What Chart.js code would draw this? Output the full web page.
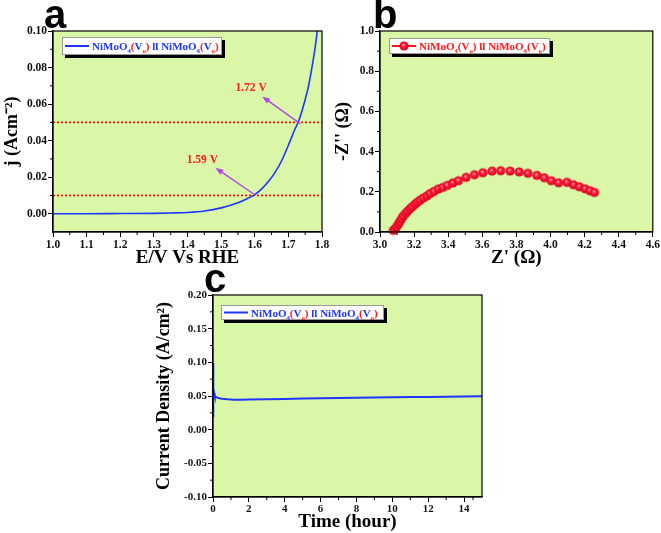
<!DOCTYPE html>
<html lang="en">
<head>
<meta charset="UTF-8">
<title>NiMoO4 || NiMoO4 electrolyzer</title>
<script src="https://cdn.jsdelivr.net/npm/chart.js"></script>
<style>
  body { margin: 0; background: #fff; }
  #wrap { position: relative; width: 661px; height: 533px; overflow: hidden; }
  canvas { position: absolute; }
  #ca { left: 0; top: 0; }
  #cb { left: 330px; top: 0; }
  #cc { left: 150px; top: 265px; }
</style>
</head>
<body>
<div id="wrap">
  <canvas id="ca" width="335" height="270"></canvas>
  <canvas id="cb" width="331" height="270"></canvas>
  <canvas id="cc" width="350" height="268"></canvas>
</div>
<script>
// ---- (a) polarization curve ----
const lsvE = [1.00, 1.10, 1.20, 1.30, 1.35, 1.40, 1.45, 1.50, 1.55, 1.58, 1.60, 1.62, 1.64, 1.66, 1.68, 1.70, 1.72, 1.73, 1.74, 1.75, 1.76, 1.77, 1.78, 1.79];
const lsvJ = [0, 0, 0.0001, 0.0002, 0.0004, 0.0007, 0.0015, 0.0032, 0.0060, 0.0085, 0.0105, 0.0135, 0.0175, 0.0225, 0.0290, 0.0375, 0.0465, 0.0505, 0.0560, 0.0625, 0.0700, 0.0800, 0.0915, 0.1060];
const refJ = [0.05, 0.01];
const markLabels = ['1.72 V', '1.59 V'];
const markText = [[1.589, 0.0687], [1.444, 0.0296]];
const arrowTail = [[1.735, 0.0493], [1.599, 0.0105]];
const arrowHead = [[1.622, 0.0642], [1.483, 0.0251]];
const ticksAx = [1.0, 1.1, 1.2, 1.3, 1.4, 1.5, 1.6, 1.7, 1.8];
const ticksAy = [0, 0.02, 0.04, 0.06, 0.08, 0.10];

// ---- (b) Nyquist plot ----
const zRe = [3.078, 3.088, 3.098, 3.108, 3.117, 3.127, 3.137, 3.151, 3.162, 3.176, 3.190, 3.205, 3.219, 3.235, 3.254, 3.274, 3.293, 3.317, 3.342, 3.368, 3.395, 3.427, 3.460, 3.505, 3.554, 3.603, 3.657, 3.708, 3.763, 3.816, 3.867, 3.920, 3.964, 4.004, 4.047, 4.096, 4.135, 4.170, 4.203, 4.232, 4.258];
const zIm = [0.008, 0.015, 0.027, 0.040, 0.053, 0.066, 0.080, 0.093, 0.104, 0.116, 0.126, 0.138, 0.148, 0.158, 0.169, 0.179, 0.191, 0.202, 0.214, 0.222, 0.232, 0.244, 0.255, 0.272, 0.285, 0.295, 0.303, 0.305, 0.303, 0.299, 0.292, 0.282, 0.270, 0.255, 0.245, 0.247, 0.235, 0.225, 0.215, 0.205, 0.197];
const ticksBx = [3.0, 3.2, 3.4, 3.6, 3.8, 4.0, 4.2, 4.4, 4.6];
const ticksBy = [0, 0.2, 0.4, 0.6, 0.8, 1.0];

// ---- (c) stability test ----
const timeH = [0, 0.005, 0.01, 0.03, 0.06, 0.1, 0.2, 0.35, 0.5, 0.8, 1.2, 1.6, 2, 3, 4, 5, 6, 7, 8, 9, 10, 11, 12, 13, 14, 15];
const currentC = [0.020, 0.099, 0.080, 0.062, 0.054, 0.050, 0.048, 0.0468, 0.046, 0.045, 0.0445, 0.0445, 0.0447, 0.0452, 0.0457, 0.0462, 0.0466, 0.0470, 0.0474, 0.0478, 0.0481, 0.0484, 0.0487, 0.0490, 0.0494, 0.0498];
const ticksCx = [0, 2, 4, 6, 8, 10, 12, 14];
const ticksCy = [-0.10, -0.05, 0, 0.05, 0.10, 0.15, 0.20];

const SERIF = '"Liberation Serif", "Times New Roman", serif';
const PLOT_BG = '#daf7a8';
const BLUE = '#1f36ff';
const RED = '#ff1a1a';
const PURPLE = '#b048e8';

function pts(xs, ys) { return xs.map((x, i) => ({ x: x, y: ys[i] })); }

function sphere(r) {
  const c = document.createElement('canvas');
  c.width = c.height = Math.ceil(2 * r + 2);
  const m = c.width / 2;
  const g = c.getContext('2d');
  const grad = g.createRadialGradient(m - r * 0.15, m - r * 0.25, r * 0.05, m, m, r);
  grad.addColorStop(0, '#ffc8d0');
  grad.addColorStop(0.18, '#ff5a70');
  grad.addColorStop(0.45, '#ff1a38');
  grad.addColorStop(1, '#d4001c');
  g.fillStyle = grad;
  g.beginPath(); g.arc(m, m, r, 0, Math.PI * 2); g.fill();
  return c;
}
const ball = sphere(4.6);

function legendText(main, accent) {
  const half = [
    { t: 'NiMoO', c: main }, { t: '4', c: main, sub: true }, { t: '(', c: accent },
    { t: 'V', c: main }, { t: 'o', c: accent, sub: true }, { t: ')', c: accent }
  ];
  return half.concat([{ t: ' ll ', c: main }], half);
}

function drawRich(ctx, x, y, segs, size) {
  ctx.textAlign = 'left';
  ctx.textBaseline = 'alphabetic';
  segs.forEach(s => {
    const fs = s.sub ? size * 0.62 : size;
    ctx.font = 'bold ' + fs + 'px ' + SERIF;
    ctx.fillStyle = s.c;
    ctx.fillText(s.t, x, s.sub ? y + size * 0.28 : y);
    x += ctx.measureText(s.t).width;
  });
}

function seg(ctx, x1, y1, x2, y2) {
  ctx.beginPath(); ctx.moveTo(x1, y1); ctx.lineTo(x2, y2); ctx.stroke();
}

function minors(ticks) {
  const out = [];
  for (let i = 0; i < ticks.length - 1; i++) out.push((ticks[i] + ticks[i + 1]) / 2);
  return out;
}

const panelPlugin = {
  id: 'panel',
  beforeDraw(chart) {
    const { ctx, chartArea: a } = chart;
    ctx.save();
    ctx.fillStyle = PLOT_BG;
    ctx.fillRect(a.left, a.top, a.right - a.left, a.bottom - a.top);
    ctx.restore();
  },
  afterDraw(chart, args, o) {
    const { ctx, chartArea: a } = chart;
    const xs = chart.scales.x, ys = chart.scales.y;
    ctx.save();
    ctx.strokeStyle = '#000';
    ctx.lineWidth = 1.2;
    ctx.strokeRect(a.left, a.top, a.right - a.left, a.bottom - a.top);
    ctx.lineWidth = 1;
    minors(o.xTicks).forEach(v => { const p = xs.getPixelForValue(v); seg(ctx, p, a.bottom, p, a.bottom + 3); });
    minors(o.yTicks).forEach(v => { const p = ys.getPixelForValue(v); seg(ctx, a.left - 3, p, a.left, p); });

    // annotations (panel a)
    if (o.arrows) {
      o.arrows.tail.forEach((t, i) => {
        const x1 = xs.getPixelForValue(t[0]), y1 = ys.getPixelForValue(t[1]);
        const h = o.arrows.head[i];
        const x2 = xs.getPixelForValue(h[0]), y2 = ys.getPixelForValue(h[1]);
        const ang = Math.atan2(y2 - y1, x2 - x1);
        ctx.strokeStyle = PURPLE; ctx.fillStyle = PURPLE; ctx.lineWidth = 1.4;
        seg(ctx, x1, y1, x2 - 5 * Math.cos(ang), y2 - 5 * Math.sin(ang));
        ctx.beginPath();
        ctx.moveTo(x2, y2);
        ctx.lineTo(x2 - 8 * Math.cos(ang) + 3 * Math.sin(ang), y2 - 8 * Math.sin(ang) - 3 * Math.cos(ang));
        ctx.lineTo(x2 - 8 * Math.cos(ang) - 3 * Math.sin(ang), y2 - 8 * Math.sin(ang) + 3 * Math.cos(ang));
        ctx.closePath(); ctx.fill();
        const tp = o.arrows.text[i];
        ctx.fillStyle = RED;
        ctx.font = 'bold 11.5px ' + SERIF;
        ctx.textAlign = 'center'; ctx.textBaseline = 'middle';
        ctx.fillText(o.arrows.labels[i], xs.getPixelForValue(tp[0]), ys.getPixelForValue(tp[1]));
      });
    }

    // legend box with drop shadow
    const L = o.legend;
    ctx.fillStyle = '#000';
    ctx.fillRect(L.x + 3, L.y + 3, L.w, L.h);
    ctx.fillStyle = '#fff';
    ctx.fillRect(L.x, L.y, L.w, L.h);
    ctx.strokeStyle = '#999'; ctx.lineWidth = 1;
    ctx.strokeRect(L.x + 0.5, L.y + 0.5, L.w - 1, L.h - 1);
    const cy = L.y + L.h / 2;
    ctx.strokeStyle = L.color; ctx.lineWidth = 2;
    seg(ctx, L.x + 3, cy, L.x + 27, cy);
    if (L.ball) ctx.drawImage(ball, L.x + 15 - ball.width / 2, cy - ball.height / 2);
    drawRich(ctx, L.x + 30, cy + 4, L.text, 11);

    // panel letter
    ctx.fillStyle = '#000';
    ctx.font = 'bold 40px "Liberation Sans", Arial, sans-serif';
    ctx.textAlign = 'left'; ctx.textBaseline = 'alphabetic';
    ctx.fillText(o.letter[0], o.letter[1], o.letter[2]);
    ctx.restore();
  }
};

function makeScale(s) {
  return {
    type: 'linear',
    min: s.min,
    max: s.max,
    afterBuildTicks: sc => { sc.ticks = s.ticks.map(v => ({ value: v })); },
    afterFit: sc => { if (sc.isHorizontal()) sc.height = s.size; else sc.width = s.size; },
    grid: { display: true, drawOnChartArea: false, drawTicks: true, tickLength: 5, color: '#000', lineWidth: 1 },
    border: { display: true, color: '#000', width: 1.2 },
    ticks: {
      color: '#111', padding: 1, autoSkip: false, maxRotation: 0,
      font: { family: SERIF, weight: 'bold', size: s.tickSize },
      callback: v => Number(v).toFixed(s.dec)
    },
    title: {
      display: true, text: s.title, color: '#000',
      font: { family: SERIF, weight: 'bold', size: s.titleSize },
      padding: s.titlePad
    }
  };
}

function baseOptions(pad, scales, panel) {
  return {
    responsive: false,
    animation: false,
    devicePixelRatio: 1,
    layout: { padding: pad },
    scales: scales,
    plugins: { legend: { display: false }, tooltip: { enabled: false }, panel: panel }
  };
}

// (a)
new Chart(document.getElementById('ca'), {
  type: 'scatter',
  data: {
    datasets: [
      { label: 'NiMoO4(Vo) ll NiMoO4(Vo)', data: pts(lsvE, lsvJ), showLine: true, borderColor: BLUE, borderWidth: 1.6, pointRadius: 0, cubicInterpolationMode: 'monotone' }
    ].concat(refJ.map(j => ({
      label: 'ref ' + j, data: pts([1.0, 1.8], [j, j]), showLine: true, borderColor: '#ff0000', borderWidth: 1.6, borderDash: [2, 2], pointRadius: 0
    })))
  },
  options: baseOptions({ top: 31, right: 13, left: 0, bottom: 0 }, {
    x: makeScale({ min: 1.0, max: 1.8, ticks: ticksAx, dec: 1, size: 38, tickSize: 11.5, title: 'E/V Vs RHE', titleSize: 19, titlePad: { top: 0, bottom: 1 } }),
    y: makeScale({ min: -0.01, max: 0.10, ticks: ticksAy, dec: 2, size: 53, tickSize: 11.5, title: 'j (Acm\u207B\u00B2)', titleSize: 18, titlePad: { top: 2, bottom: 0 } })
  }, {
    xTicks: ticksAx, yTicks: ticksAy, letter: ['a', 44, 28],
    legend: { x: 62, y: 37, w: 160, h: 18, color: BLUE, text: legendText(BLUE, RED) },
    arrows: { tail: arrowTail, head: arrowHead, text: markText, labels: markLabels }
  }),
  plugins: [panelPlugin]
});

// (b)
new Chart(document.getElementById('cb'), {
  type: 'scatter',
  data: {
    datasets: [{
      label: 'NiMoO4(Vo) ll NiMoO4(Vo)', data: pts(zRe, zIm), showLine: false,
      pointStyle: ball, pointRadius: 4.6, clip: false
    }]
  },
  options: baseOptions({ top: 31, right: 8, left: 0, bottom: 0 }, {
    x: makeScale({ min: 3.0, max: 4.6, ticks: ticksBx, dec: 1, size: 38, tickSize: 11.5, title: "Z' (\u03A9)", titleSize: 19, titlePad: { top: 0, bottom: 1 } }),
    y: makeScale({ min: 0, max: 1.0, ticks: ticksBy, dec: 1, size: 50, tickSize: 11.5, title: "-Z'' (\u03A9)", titleSize: 18, titlePad: { top: 3, bottom: 0 } })
  }, {
    xTicks: ticksBx, yTicks: ticksBy, letter: ['b', 43, 28],
    legend: { x: 59, y: 38, w: 161, h: 16, color: RED, ball: true, text: legendText(RED, RED) }
  }),
  plugins: [panelPlugin]
});

// (c)
new Chart(document.getElementById('cc'), {
  type: 'scatter',
  data: {
    datasets: [{
      label: 'NiMoO4(Vo) ll NiMoO4(Vo)', data: pts(timeH, currentC), showLine: true,
      borderColor: BLUE, borderWidth: 2, pointRadius: 0
    }]
  },
  options: baseOptions({ top: 30, right: 18, left: 0, bottom: 0 }, {
    x: makeScale({ min: 0, max: 15, ticks: ticksCx, dec: 0, size: 36, tickSize: 11, title: 'Time (hour)', titleSize: 19, titlePad: { top: 0, bottom: 0 } }),
    y: makeScale({ min: -0.10, max: 0.20, ticks: ticksCy, dec: 2, size: 63, tickSize: 11, title: 'Current Density (A/cm\u00B2)', titleSize: 18, titlePad: { top: 4, bottom: 0 } })
  }, {
    xTicks: ticksCx.concat([15]), yTicks: ticksCy, letter: ['c', 54, 27],
    legend: { x: 71, y: 40, w: 163, h: 15, color: BLUE, text: legendText(BLUE, RED) }
  }),
  plugins: [panelPlugin]
});
</script>
</body>
</html>
